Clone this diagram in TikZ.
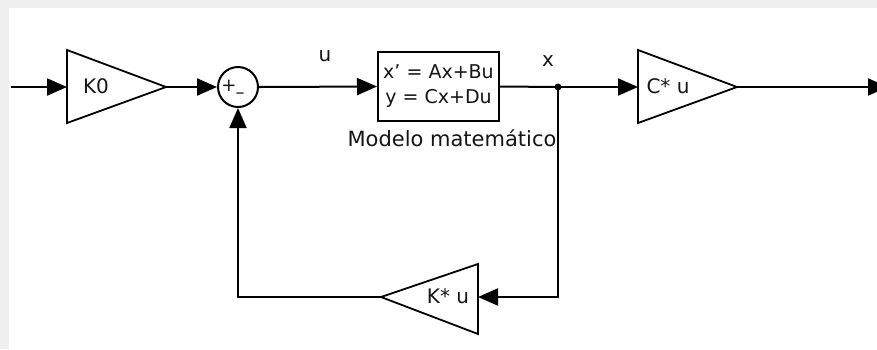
\documentclass[tikz,border=0pt]{standalone}
\usepackage{fontspec}
\setmainfont{DejaVu Sans}
\usetikzlibrary{arrows.meta}
\definecolor{bgedge}{HTML}{F0F0F0}
\definecolor{txt}{HTML}{151515}
\begin{document}
\begin{tikzpicture}[x=1pt,y=-1pt,line width=2pt,
  conn/.style={-{Triangle[length=20pt,width=17pt]}},
  lbl/.style={inner sep=0pt,text=txt,font=\fontsize{20}{20}\selectfont},
  gain/.style={line width=1.8pt,line join=miter}]
\fill[bgedge] (0,0) rectangle (877,349);
\fill[white] (9,8) rectangle (877,349);
\useasboundingbox (0,0) rectangle (877,349);
% input
\coordinate (in) at (11,87);
% K0 gain
\draw[gain] (67,50) -- (166,87) -- (67,123) -- cycle;
\coordinate (k0in) at (67,87);
\coordinate (k0out) at (166,87);
\node[lbl] (k0) at (96,86) {K0};
% sum
\node[circle,draw,minimum size=40pt,inner sep=0pt] (sum) at (238,87) {};
\node[inner sep=0pt,text=txt,font=\fontsize{18}{18}\selectfont] (plus) at (229,86) {+};
\node[inner sep=0pt,text=txt,font=\fontsize{18}{18}\selectfont] (minus) at (240,96) {–};
% plant
\node[draw,minimum width=121pt,minimum height=69pt,inner sep=0pt,align=center,
  text=txt,font=\fontsize{19}{25}\selectfont] (plant) at (438.5,86.5)
  {x{\char"0027} = Ax+Bu\\y = Cx+Du};
\node[lbl,font=\fontsize{21}{21}\selectfont] (plantlbl) at (452,138) {Modelo matemático};
\node[lbl] (ulbl) at (325,56) {u};
\node[lbl] (xlbl) at (548,61) {x};
% junction
\coordinate (jx) at (558,87);
% C gain
\draw[gain] (638,50) -- (737,87) -- (638,123) -- cycle;
\coordinate (cin) at (638,87);
\coordinate (cout) at (737,87);
\node[lbl] (cg) at (668,86) {C* u};
\coordinate (out) at (888,87);
% K gain (feedback)
\draw[gain] (478,264) -- (381,297) -- (478,334) -- cycle;
\coordinate (kin) at (478,297);
\coordinate (kout) at (381,297);
\node[lbl] (kg) at (448,296) {K* u};
% connectors
\draw[conn] (in) -- (k0in);
\draw[conn] (k0out) -- (sum.west);
\draw[conn] (sum.east) -- (plant.west);
\draw (plant.east) -- (jx);
\draw[conn] (jx) -- (cin);
\draw[conn] (cout) -- (out);
\draw[conn] (jx) |- (kin);
\draw[conn] (kout) -| (sum.south);
\fill (jx) circle (3.5pt);
\end{tikzpicture}
\end{document}
